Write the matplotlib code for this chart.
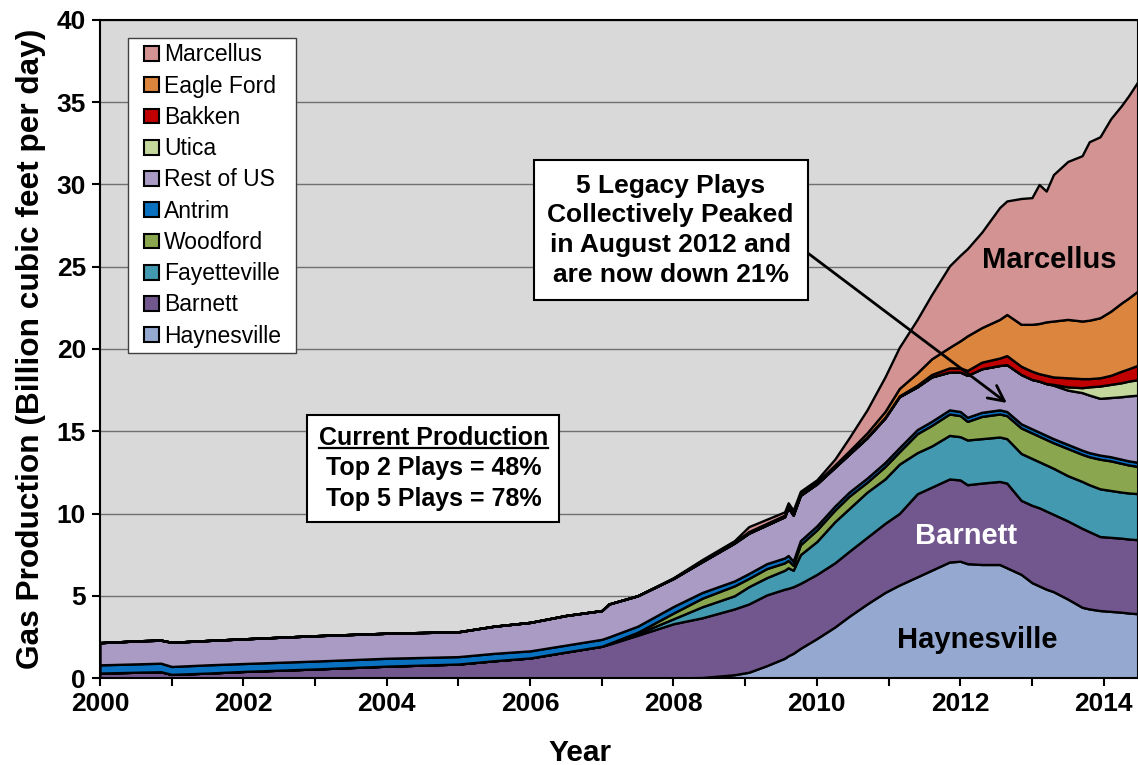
import matplotlib
matplotlib.use("Agg")
import matplotlib.pyplot as plt
from matplotlib.lines import Line2D
from matplotlib.patches import Rectangle
from matplotlib.collections import PolyCollection
from matplotlib.legend_handler import HandlerBase
from matplotlib.transforms import IdentityTransform

plt.rcParams['font.family'] = ['Liberation Sans', 'DejaVu Sans']

# time axis (decimal year)
years = [2000.0, 2000.6, 2000.85, 2001.0, 2001.5, 2002.0, 2003.0, 2004.0, 2005.0, 2005.5,
         2006.0, 2006.5, 2007.0, 2007.1, 2007.5, 2008.0, 2008.4, 2008.85, 2009.05, 2009.3,
         2009.55, 2009.6, 2009.67, 2009.77, 2010.0, 2010.25, 2010.45, 2010.7, 2010.95, 2011.15,
         2011.4, 2011.6, 2011.85, 2012.0, 2012.1, 2012.3, 2012.55, 2012.65, 2012.85, 2013.0,
         2013.1, 2013.2, 2013.3, 2013.5, 2013.7, 2013.8, 2013.95, 2014.1, 2014.25, 2014.35,
         2014.5]

# gas production by play, Bcf/d
haynesville = [0, 0, 0, 0, 0, 0, 0, 0, 0, 0,
               0, 0, 0, 0, 0, 0, 0.03, 0.2, 0.35, 0.75,
               1.2, 1.35, 1.5, 1.8, 2.4, 3.1, 3.75, 4.5, 5.2, 5.65,
               6.15, 6.55, 7.05, 7.1, 6.95, 6.9, 6.9, 6.7, 6.3, 5.8,
               5.6, 5.4, 5.25, 4.8, 4.3, 4.2, 4.1, 4.05, 4.0, 3.95,
               3.9]
barnett = [0.3, 0.36, 0.38, 0.22, 0.3, 0.4, 0.55, 0.72, 0.85, 1.05,
           1.22, 1.58, 1.93, 2.05, 2.6, 3.3, 3.63, 4.0, 4.15, 4.3,
           4.2, 4.1, 4.05, 3.95, 3.9, 3.9, 3.95, 4.05, 4.2, 4.35,
           5.05, 5.05, 5.05, 4.94, 4.8, 4.95, 5.05, 5.15, 4.5, 4.7,
           4.75, 4.75, 4.7, 4.75, 4.8, 4.7, 4.5, 4.5, 4.5, 4.5,
           4.5]
fayetteville = [0, 0, 0, 0, 0, 0, 0, 0, 0, 0,
                0, 0, 0, 0.03, 0.1, 0.3, 0.67, 0.8, 1.05, 1.05,
                1.15, 1.25, 1.0, 1.75, 2.0, 2.5, 2.6, 2.75, 2.7, 3.0,
                2.5, 2.5, 2.65, 2.63, 2.72, 2.7, 2.7, 2.7, 2.85, 2.85,
                2.8, 2.8, 2.8, 2.75, 2.85, 2.85, 2.9, 2.85, 2.8, 2.8,
                2.8]
woodford = [0, 0, 0, 0, 0, 0, 0, 0, 0, 0,
            0, 0, 0, 0.02, 0.08, 0.35, 0.52, 0.6, 0.5, 0.55,
            0.45, 0.45, 0.3, 0.6, 0.7, 0.7, 0.75, 0.6, 0.75, 0.75,
            1.15, 1.25, 1.3, 1.28, 1.13, 1.35, 1.4, 1.4, 1.55, 1.55,
            1.55, 1.55, 1.55, 1.65, 1.65, 1.7, 1.8, 1.8, 1.75, 1.7,
            1.65]
antrim = [0.5, 0.51, 0.52, 0.48, 0.5, 0.48, 0.48, 0.48, 0.45, 0.45,
          0.43, 0.42, 0.42, 0.4, 0.37, 0.4, 0.35, 0.3, 0.3, 0.3,
          0.3, 0.3, 0.25, 0.25, 0.25, 0.25, 0.25, 0.25, 0.25, 0.25,
          0.25, 0.25, 0.25, 0.25, 0.25, 0.25, 0.25, 0.25, 0.25, 0.25,
          0.25, 0.25, 0.25, 0.25, 0.25, 0.25, 0.25, 0.25, 0.25, 0.25,
          0.25]
rest_of_us = [1.35, 1.4, 1.4, 1.47, 1.48, 1.5, 1.54, 1.52, 1.51, 1.65,
              1.73, 1.8, 1.75, 2.0, 1.85, 1.7, 1.87, 2.3, 2.45, 2.35,
              2.5, 2.9, 2.8, 2.75, 2.55, 2.35, 2.3, 2.45, 2.7, 3.1,
              2.6, 2.7, 2.3, 2.4, 2.55, 2.65, 2.7, 2.85, 3.0, 3.0,
              3.1, 3.15, 3.25, 3.3, 3.5, 3.5, 3.45, 3.6, 3.8, 3.95,
              4.1]
utica = [0, 0, 0, 0, 0, 0, 0, 0, 0, 0,
         0, 0, 0, 0, 0, 0, 0, 0, 0, 0,
         0, 0, 0, 0, 0, 0, 0, 0, 0, 0,
         0, 0, 0, 0, 0, 0, 0, 0, 0, 0,
         0, 0, 0.05, 0.2, 0.3, 0.5, 0.75, 0.8, 0.85, 0.9,
         0.95]
bakken = [0, 0, 0, 0, 0, 0, 0, 0, 0, 0,
          0, 0, 0, 0, 0, 0.01, 0.03, 0.03, 0.05, 0.05,
          0.05, 0.05, 0.05, 0.05, 0.05, 0.05, 0.05, 0.05, 0.05, 0.05,
          0.1, 0.15, 0.25, 0.25, 0.3, 0.4, 0.45, 0.55, 0.5, 0.5,
          0.45, 0.5, 0.45, 0.55, 0.55, 0.5, 0.5, 0.55, 0.7, 0.75,
          0.9]
eagle_ford = [0, 0, 0, 0, 0, 0, 0, 0, 0, 0,
              0, 0, 0, 0, 0, 0.01, 0.02, 0.02, 0.05, 0.05,
              0.05, 0.05, 0.05, 0.05, 0.05, 0.1, 0.15, 0.25, 0.35, 0.45,
              0.75, 0.95, 1.25, 1.65, 2.1, 2.1, 2.35, 2.5, 2.55, 2.85,
              3.05, 3.25, 3.4, 3.55, 3.5, 3.55, 3.65, 3.9, 4.15, 4.3,
              4.55]
marcellus = [0, 0, 0, 0, 0, 0, 0, 0, 0, 0,
             0, 0, 0, 0, 0, 0.03, 0.08, 0.1, 0.3, 0.25,
             0.2, 0.2, 0.2, 0.15, 0.15, 0.35, 0.8, 1.4, 2.1, 2.5,
             3.25, 3.9, 4.95, 5.2, 5.3, 5.8, 6.8, 6.9, 7.65, 7.7,
             8.45, 7.95, 8.9, 9.6, 10.05, 10.85, 11.0, 11.7, 12.0, 12.3,
             12.8]

plays = ['Haynesville', 'Barnett', 'Fayetteville', 'Woodford', 'Antrim',
         'Rest of US', 'Utica', 'Bakken', 'Eagle Ford', 'Marcellus']
series = [haynesville, barnett, fayetteville, woodford, antrim,
          rest_of_us, utica, bakken, eagle_ford, marcellus]
colors = ['#94A8D0', '#72578F', '#4299B0', '#8AA64E', '#0A70C0',
          '#A99BC3', '#C4D79C', '#C00000', '#DC853F', '#D49393']


class SquareHandler(HandlerBase):
    # small square sitting at the right end of the handle box
    def create_artists(self, legend, orig_handle, xdescent, ydescent,
                       width, height, fontsize, trans):
        s = height
        p = Rectangle((width - s - xdescent, -ydescent), s, s,
                      facecolor=orig_handle.get_facecolor()[0],
                      edgecolor='black', linewidth=1.5, transform=trans)
        return [p]


fig = plt.figure(figsize=(11.38, 7.65), dpi=100)
ax = fig.add_axes([100 / 1138, 1 - 678 / 765, 1038 / 1138, 658 / 765])
ax.set_facecolor('#D9D9D9')

ax.stackplot(years, *series, labels=plays, colors=colors,
             edgecolor='black', linewidth=1.7)

ax.set_xlim(2000, 2014.48)
ax.set_ylim(0, 40)
ax.set_yticks(range(0, 41, 5))
ax.set_xticks(range(2000, 2015))
ax.set_xticklabels([str(y) if y % 2 == 0 else '' for y in range(2000, 2015)])
ax.yaxis.grid(True, color='#707070', linewidth=1)
ax.set_axisbelow(True)
ax.tick_params(axis='both', direction='out', length=6, width=1.5, labelsize=19, pad=4)
for lab in ax.get_xticklabels() + ax.get_yticklabels():
    lab.set_fontweight('bold')
for sp in ax.spines.values():
    sp.set_linewidth(1.5)
    sp.set_color('black')

ax.set_xlabel('Year', fontsize=21.5, fontweight='bold')
ax.xaxis.set_label_coords((580 - 100) / 1038, -0.093)
ax.set_ylabel('Gas Production (Billion cubic feet per day)', fontsize=22.8,
              fontweight='bold', labelpad=8)

# legend, top entry first
h, l = ax.get_legend_handles_labels()
leg = ax.legend(h[::-1], l[::-1], loc='upper left',
                bbox_to_anchor=(0.027, 0.5, (296 - 128) / 1038, 0.473), mode='expand',
                borderaxespad=0, fontsize=16.5, frameon=True, fancybox=False,
                handlelength=1.1, handleheight=0.62, handletextpad=0.22,
                labelspacing=0.36, borderpad=0.25,
                handler_map={PolyCollection: SquareHandler()})
leg.get_frame().set_edgecolor('#404040')
leg.get_frame().set_linewidth(1)
leg.get_frame().set_alpha(1)

# play labels
ax.text(2013.24, 25.4, 'Marcellus', fontsize=21, fontweight='bold', ha='center', va='center')
ax.text(2012.08, 8.63, 'Barnett', fontsize=21, fontweight='bold', color='white',
        ha='center', va='center')
ax.text(2012.24, 2.33, 'Haynesville', fontsize=21, fontweight='bold', ha='center', va='center')

# legacy plays callout, arrow leaves the right edge of the box
ax.annotate('5 Legacy Plays\nCollectively Peaked\nin August 2012 and\nare now down 21%',
            xy=(2012.65, 16.72), xytext=(2007.96, 27.23),
            fontsize=19, fontweight='bold', ha='center', va='center', linespacing=1.3,
            bbox=dict(boxstyle='square,pad=0.52', facecolor='white', edgecolor='black', lw=1.5),
            arrowprops=dict(arrowstyle='->', lw=2, color='black', mutation_scale=28,
                            relpos=(1.0, 0.39), shrinkA=0, shrinkB=0),
            zorder=5)

# current production box
box_kw = dict(fontsize=18, fontweight='bold', ha='center', va='center', linespacing=1.32)
cur = ax.text(2004.65, 12.74, 'Current Production\nTop 2 Plays = 48%\nTop 5 Plays = 78%',
              bbox=dict(boxstyle='square,pad=0.45', facecolor='white', edgecolor='black', lw=1.5),
              zorder=5, **box_kw)

fig.canvas.draw()
r = fig.canvas.get_renderer()
bb = cur.get_window_extent(r)
tmp = ax.text(0, 0, 'Current Production', **box_kw)
w = tmp.get_window_extent(r).width
tmp.remove()
fs_px = 18 * fig.dpi / 72
cx = (bb.x0 + bb.x1) / 2
uy = bb.y1 - 0.86 * fs_px
fig.add_artist(Line2D([cx - w / 2, cx + w / 2], [uy, uy], color='black', lw=1.6,
                      transform=IdentityTransform(), zorder=6))

fig.savefig('out.png', dpi=100)
